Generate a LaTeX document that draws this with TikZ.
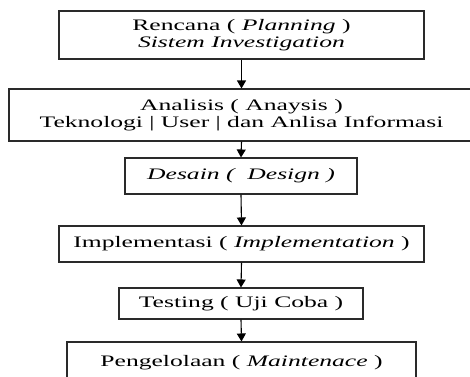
\documentclass[tikz,border=0pt]{standalone}
\usepackage{fontspec}
\usepackage{graphicx}
\setmainfont{Liberation Serif}
\usetikzlibrary{arrows.meta}
\definecolor{edge}{HTML}{2A2A2A}
\newcommand{\wideline}[1]{\scalebox{1.6}[1]{#1}}
\tikzset{
  stagebox/.style={draw=edge, line width=1.1pt, inner sep=0pt, align=center,
    font=\fontsize{16}{17}\selectfont},
  flow/.style={draw=black, line width=1.1pt, -{Triangle[width=9pt,length=8pt]}}
}
\begin{document}
\begin{tikzpicture}[x=1pt,y=-1pt]
\useasboundingbox (0,0) rectangle (470,376);
\node[stagebox, minimum width=365pt, minimum height=48pt] (b1) at (241.5,35)
  {\wideline{Rencana ( \textit{Planning} )}\\ \wideline{\textit{Sistem Investigation}}};
\node[stagebox, minimum width=465pt, minimum height=52pt] (b2) at (241.5,115)
  {\wideline{Analisis ( Anaysis )}\\ \wideline{Teknologi | User | dan Anlisa Informasi}};
\node[stagebox, minimum width=232pt, minimum height=36pt] (b3) at (241,176)
  {\wideline{\textit{Desain (~ Design )}}};
\node[stagebox, minimum width=365pt, minimum height=36pt] (b4) at (241.5,244)
  {\wideline{Implementasi ( \textit{Implementation} )}};
\node[stagebox, minimum width=244pt, minimum height=31pt] (b5) at (241,303.5)
  {\wideline{Testing ( Uji Coba )}};
\node[stagebox, minimum width=349pt, minimum height=42pt] (b6) at (241.5,363)
  {\wideline{Pengelolaan ( \textit{Maintenace} )}};
\draw[flow] (b1.south) -- (b2.north);
\draw[flow] (b2.south) -- (b3.north);
\draw[flow] (b3.south) -- (b4.north);
\draw[flow] (b4.south) -- (b5.north);
\draw[flow] (b5.south) -- (b6.north);
\end{tikzpicture}
\end{document}
